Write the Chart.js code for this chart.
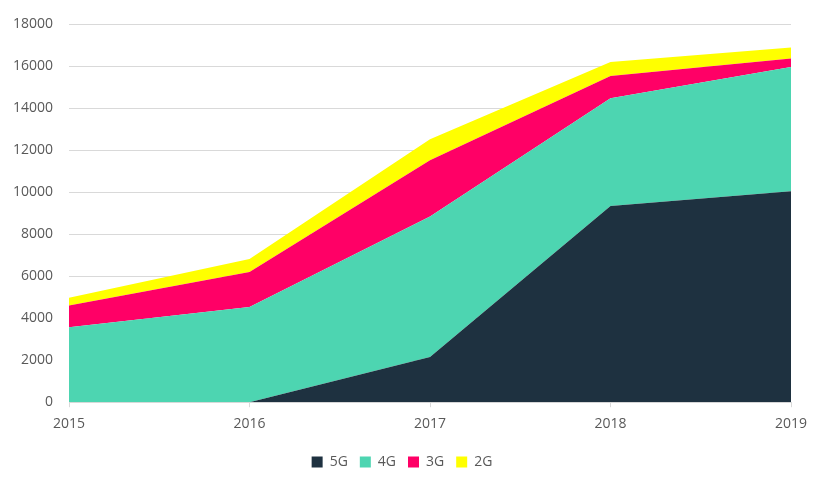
<!DOCTYPE html>
<html>
<head>
<meta charset="utf-8">
<script src="https://cdn.jsdelivr.net/npm/chart.js@4"></script>
<style>
  html, body { margin: 0; padding: 0; background: #fff; }
  #wrap { width: 825px; height: 480px; position: relative; }
</style>
</head>
<body>
<div id="wrap"><canvas id="chart"></canvas></div>
<script>
// years on the x axis
const years = ['2015', '2016', '2017', '2018', '2019'];

// series values (stacked)
const g5 = [0, 0, 2150, 9350, 10050];
const g4 = [3570, 4530, 6700, 5130, 5920];
const g3 = [1040, 1670, 2680, 1060, 400];
const g2 = [370, 620, 1000, 670, 530];

const seriesNames = ['5G', '4G', '3G', '2G'];
const seriesColors = ['#1e3140', '#4dd5b1', '#ff0066', '#ffff00'];

const textColor = '#595959';
const gridColor = '#d9d9d9';
const font = { family: 'Open Sans', size: 14 };

// push the legend a bit further down, below the axis labels
const legendShift = {
    id: 'legendShift',
    afterLayout(chart) {
        chart.legend.top += 3;
        chart.legend.bottom += 3;
    }
};

const ctx = document.getElementById('chart').getContext('2d');
new Chart(ctx, {
    type: 'line',
    data: {
        labels: years,
        datasets: [g5, g4, g3, g2].map((vals, i) => ({
            label: seriesNames[i],
            data: vals,
            backgroundColor: seriesColors[i],
            borderColor: seriesColors[i],
            borderWidth: 0,
            pointRadius: 0,
            tension: 0,
            fill: i === 0 ? 'origin' : '-1'
        }))
    },
    options: {
        responsive: true,
        maintainAspectRatio: false,
        animation: false,
        layout: { padding: { left: 13, right: 34, top: 24, bottom: 4 } },
        scales: {
            x: {
                offset: false,
                grid: { display: true, drawOnChartArea: false, color: gridColor, tickLength: 5 },
                border: { color: gridColor },
                ticks: { color: textColor, font: font, padding: 8, maxRotation: 0 }
            },
            y: {
                stacked: true,
                min: 0,
                max: 18000,
                afterFit(scale) { scale.width = 56; },
                grid: { color: gridColor, drawTicks: false },
                border: { display: false },
                ticks: {
                    stepSize: 2000,
                    color: textColor,
                    font: font,
                    padding: 16,
                    callback: v => String(v)
                }
            }
        },
        plugins: {
            legend: {
                position: 'bottom',
                labels: {
                    color: textColor,
                    font: font,
                    boxWidth: 11,
                    boxHeight: 11,
                    padding: 12
                }
            },
            tooltip: { enabled: false }
        }
    },
    plugins: [legendShift]
});
</script>
</body>
</html>
